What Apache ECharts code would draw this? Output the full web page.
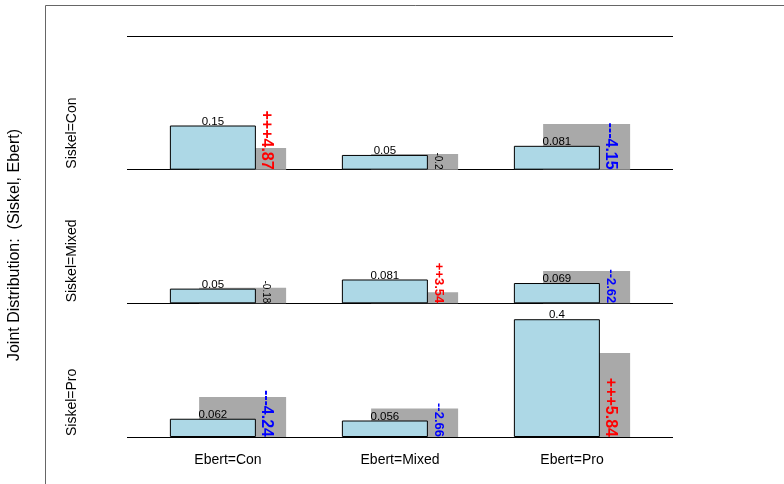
<!DOCTYPE html>
<html><head><meta charset="utf-8">
<script src="https://cdn.jsdelivr.net/npm/echarts@6/dist/echarts.min.js"></script>
<style>html,body{margin:0;padding:0;background:#fff}#c{width:784px;height:484px}</style>
</head><body><div id="c"></div>
<script>
// ---- data ----
const ebertCats = ['Ebert=Con', 'Ebert=Mixed', 'Ebert=Pro'];
const siskelCats = ['Siskel=Con', 'Siskel=Mixed', 'Siskel=Pro'];
const observedCon = [0.15, 0.05, 0.081];
const observedMixed = [0.05, 0.081, 0.069];
const observedPro = [0.062, 0.056, 0.4];
const expectedCon = [0.074, 0.053, 0.155];
const expectedMixed = [0.053, 0.038, 0.11];
const expectedPro = [0.136, 0.097, 0.285];
const residCon = [4.87, -0.2, -4.15];
const residMixed = [-0.18, 3.54, -2.62];
const residPro = [-4.24, -2.66, 5.84];
const yTitle = 'Joint Distribution:  (Siskel, Ebert)';

const observed = [observedCon, observedMixed, observedPro];
const expected = [expectedCon, expectedMixed, expectedPro];
const resid = [residCon, residMixed, residPro];

// ---- layout ----
const FONT = 'Liberation Sans';
const plotLeft = 127, plotWidth = 546, plotTop = 36, plotHeight = 401;
const panelH = plotHeight / 3;
const barLeft = 142, barAreaWidth = 516;
const yMax = 0.454;

function residLabel(r) {
  const a = Math.abs(r);
  const n = a < 2 ? 1 : (a < 4 ? 2 : 3);
  const sign = r >= 0 ? '+' : '-';
  const text = sign.repeat(n) + String(a);
  let color = '#000', size = 10, weight = 'normal';
  if (n >= 2) { color = r > 0 ? '#FF0000' : '#0000FF'; weight = 'bold'; size = n === 2 ? 13 : 16; }
  return { text, color, size, weight };
}

const grid = [{ left: plotLeft, top: plotTop, width: plotWidth, height: plotHeight }];
const xAxis = [{ type: 'value', show: false, min: 0, max: 1, gridIndex: 0 }];
const yAxis = [{
  type: 'value', gridIndex: 0, min: 0, max: 3, interval: 1,
  axisLine: { show: false }, axisTick: { show: false }, axisLabel: { show: false },
  splitLine: { show: true, lineStyle: { color: '#000', width: 1 } }
}];
const series = [];
const graphic = [
  { type: 'rect', z: -10, shape: { x: 45.5, y: 5.5, width: 1000, height: 1000 },
    style: { fill: 'none', stroke: '#666', lineWidth: 1 } },
  { type: 'text', x: 15, y: 245, rotation: Math.PI / 2,
    style: { text: yTitle, font: '16px "' + FONT + '"', fill: '#000', align: 'center', verticalAlign: 'middle' } }
];

for (let i = 0; i < 3; i++) {
  const gi = i + 1;
  grid.push({ left: barLeft, top: plotTop + i * panelH, width: barAreaWidth, height: panelH });
  xAxis.push({
    type: 'category', gridIndex: gi, data: ebertCats,
    axisLine: { show: false }, axisTick: { show: false },
    axisLabel: { show: i === 2, fontFamily: FONT, fontSize: 14, color: '#000', margin: 16 }
  });
  yAxis.push({ type: 'value', gridIndex: gi, min: 0, max: yMax, show: false });
  series.push({
    type: 'bar', xAxisIndex: gi, yAxisIndex: gi, barWidth: 86, barGap: '-66%', z: 3,
    data: observed[i],
    itemStyle: { color: '#ADD8E6', borderColor: '#000', borderWidth: 1 },
    label: { show: true, position: 'top', distance: -2, fontFamily: FONT, fontSize: 11.5, color: '#000',
      formatter: p => String(p.value) },
    emphasis: { disabled: true }, animation: false
  });
  series.push({
    type: 'bar', xAxisIndex: gi, yAxisIndex: gi, barWidth: 87, barGap: '-66%', z: 2,
    data: expected[i].map((v, j) => {
      const l = residLabel(resid[i][j]);
      return { value: v, label: { formatter: l.text, color: l.color, fontSize: l.size, fontWeight: l.weight } };
    }),
    itemStyle: { color: '#A9A9A9' },
    label: { show: true, position: [67, '100%'], rotate: -90, align: 'right', verticalAlign: 'middle',
      fontFamily: FONT },
    emphasis: { disabled: true }, animation: false
  });
  graphic.push({ type: 'text', x: 72, y: plotTop + (i + 1) * panelH - 1, rotation: Math.PI / 2,
    style: { text: siskelCats[i], font: '14px "' + FONT + '"', fill: '#000', align: 'left', verticalAlign: 'middle' } });
}

const chart = echarts.init(document.getElementById('c'), null, { renderer: 'canvas' });
chart.setOption({ animation: false, textStyle: { fontFamily: FONT }, grid, xAxis, yAxis, series, graphic });
</script></body></html>
